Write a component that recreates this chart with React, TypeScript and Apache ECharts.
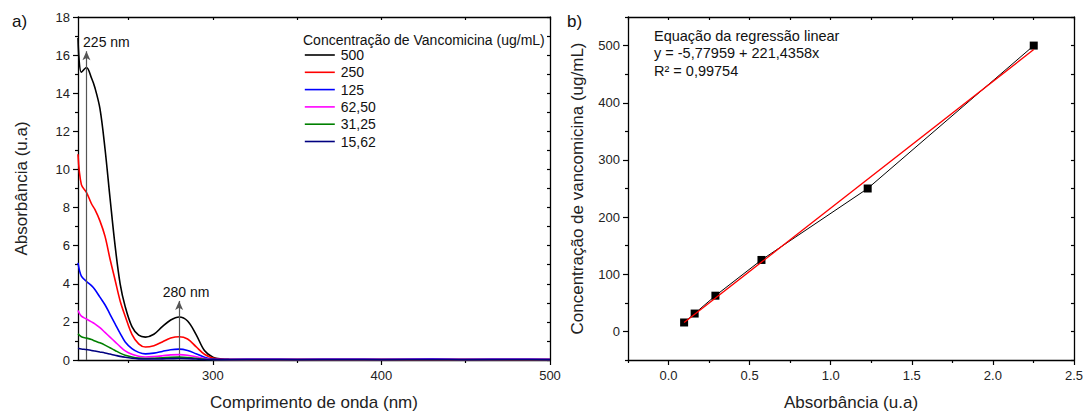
import React, { useEffect, useRef } from 'react';
import * as echarts from 'echarts';

// ---- Panel a) UV spectra ----
const wavelengths = [220, 222, 225, 228, 230, 233, 236, 239, 242, 245, 248, 252, 256, 260, 265, 270, 275, 280, 285, 290, 295, 300, 305, 310, 330, 350, 380, 400, 430, 450, 480, 500];
const abs500 = [16.9, 15.1, 15.35, 14.8, 14.3, 13.2, 11.1, 8.5, 6.0, 4.0, 2.8, 1.75, 1.3, 1.2, 1.35, 1.75, 2.1, 2.26, 2.05, 1.35, 0.5, 0.15, 0.05, 0.03, 0.02, 0.02, 0.02, 0.03, 0.02, 0.03, 0.02, 0.02];
const abs250 = [10.8, 9.2, 8.8, 8.2, 7.9, 7.3, 6.5, 5.3, 4.2, 3.1, 2.3, 1.35, 0.85, 0.68, 0.75, 0.95, 1.15, 1.22, 1.1, 0.7, 0.3, 0.1, 0.04, 0.02, 0.02, 0.02, 0.02, 0.02, 0.02, 0.02, 0.02, 0.02];
const abs125 = [5.1, 4.4, 4.13, 3.9, 3.7, 3.3, 2.9, 2.4, 1.9, 1.4, 0.95, 0.6, 0.4, 0.32, 0.36, 0.45, 0.54, 0.57, 0.5, 0.33, 0.15, 0.05, 0.03, 0.03, 0.04, 0.03, 0.04, 0.03, 0.05, 0.03, 0.04, 0.03];
const abs6250 = [2.6, 2.3, 2.15, 2.0, 1.9, 1.7, 1.45, 1.2, 0.95, 0.7, 0.48, 0.3, 0.2, 0.16, 0.18, 0.22, 0.27, 0.28, 0.25, 0.17, 0.08, 0.03, 0.02, 0.02, 0.02, 0.02, 0.02, 0.02, 0.02, 0.02, 0.02, 0.02];
const abs3125 = [1.38, 1.22, 1.15, 1.07, 1.0, 0.9, 0.78, 0.64, 0.5, 0.36, 0.25, 0.16, 0.1, 0.08, 0.09, 0.11, 0.14, 0.15, 0.13, 0.09, 0.04, 0.02, 0.01, 0.01, 0.01, 0.01, 0.01, 0.01, 0.01, 0.01, 0.01, 0.01];
const abs1562 = [0.62, 0.58, 0.55, 0.5, 0.47, 0.42, 0.37, 0.31, 0.25, 0.19, 0.14, 0.09, 0.06, 0.05, 0.05, 0.06, 0.07, 0.08, 0.07, 0.05, 0.03, 0.02, 0.02, 0.02, 0.03, 0.02, 0.03, 0.02, 0.03, 0.02, 0.03, 0.02];
const seriesNames = ['500', '250', '125', '62,50', '31,25', '15,62'];
const seriesColors = ['#000000', '#ff0000', '#0000ff', '#ff00ff', '#008000', '#000080'];
const spectra = [abs500, abs250, abs125, abs6250, abs3125, abs1562];
const peakMarks = [225, 280];
const peakArrowTops = [16.2, 3.1];
const peakLabels = ['225 nm', '280 nm'];

const xTicksA = [250, 300, 350, 400, 450, 500];
const xLabelsA = [300, 400, 500];
const xMinorA = [250, 350, 450];

// ---- Panel b) calibration ----
const absorbance = [0.096, 0.161, 0.289, 0.573, 1.228, 2.252];
const concentration = [15.62, 31.25, 62.5, 125, 250, 500];
const fitX = [0.096, 2.252];
const fitY = [15.5, 493];
const xLabelsB = [0, 0.5, 1, 1.5, 2, 2.5];
const xMinorB = [-0.25, 0.25, 0.75, 1.25, 1.75, 2.25];
const xAllB = [-0.25, 0, 0.25, 0.5, 0.75, 1, 1.25, 1.5, 1.75, 2, 2.25, 2.5];
const yLabelsB = [0, 100, 200, 300, 400, 500];
const yMinorB = [-50, 50, 150, 250, 350, 450, 550];

const FONT = 'Liberation Sans, Arial, sans-serif';
const axisLine = { show: true, onZero: false, lineStyle: { color: '#000', width: 1.3 } };
const noLine = { show: false, onZero: false };

export default function App() {
  const ref = useRef<HTMLDivElement>(null);
  useEffect(() => {
    const chart = echarts.init(ref.current!, null, { renderer: 'svg' });
    const labelStyle = { fontFamily: FONT, fontSize: 13, color: '#222' };
    const nameStyle = { fontFamily: FONT, fontSize: 17, color: '#222' };

    const lineSeries: any[] = spectra.map((vals, i) => ({
      name: seriesNames[i],
      type: 'line',
      xAxisIndex: 0,
      yAxisIndex: 0,
      symbol: 'none',
      smooth: 0.35,
      lineStyle: { color: seriesColors[i], width: 1.6 },
      itemStyle: { color: seriesColors[i] },
      data: wavelengths.map((w, j) => [w, vals[j]]),
      z: 2 + i,
    }));
    lineSeries.push({
      type: 'line',
      xAxisIndex: 0,
      yAxisIndex: 0,
      data: [],
      z: 20,
      markLine: {
        silent: true,
        animation: false,
        symbol: ['none', 'arrow'],
        symbolSize: [6, 9],
        lineStyle: { color: '#555', width: 1.2, type: 'solid' },
        data: peakMarks.map((w, i) => [
          {
            coord: [w, 0],
            label: {
              show: true,
              position: 'end',
              formatter: peakLabels[i],
              fontFamily: FONT,
              fontSize: 14,
              color: '#111',
              distance: 2,
              padding: [0, 0, 0, i === 0 ? 40 : 14],
            },
          },
          { coord: [w, peakArrowTops[i]] },
        ]),
      },
    });

    const option: any = {
      animation: false,
      title: [
        { text: 'a)', left: 12, top: 13, padding: 0, textStyle: { fontFamily: FONT, fontSize: 17, fontWeight: 'normal', color: '#111' } },
        { text: 'b)', left: 567, top: 13, padding: 0, textStyle: { fontFamily: FONT, fontSize: 17, fontWeight: 'normal', color: '#111' } },
        { text: 'Concentração de Vancomicina (ug/mL)', left: 303, top: 31, padding: 0, textStyle: { fontFamily: FONT, fontSize: 14, fontWeight: 'normal', color: '#111', lineHeight: 17 } },
        {
          text: 'Equação da regressão linear\ny = -5,77959 + 221,4358x\nR² = 0,99754',
          left: 654, top: 27, padding: 0,
          textStyle: { fontFamily: FONT, fontSize: 14.5, fontWeight: 'normal', color: '#111', lineHeight: 17.5 },
        },
      ],
      legend: {
        orient: 'vertical',
        left: 304,
        top: 48,
        padding: 0,
        itemWidth: 30,
        itemHeight: 14,
        itemGap: 3.3,
        data: seriesNames,
        itemStyle: { opacity: 0 },
        lineStyle: { width: 1.6 },
        textStyle: { fontFamily: FONT, fontSize: 14, color: '#111', padding: [0, 0, 0, 1] },
      },
      grid: [
        { left: 78, top: 17, right: 536, bottom: 53 },
        { left: 628, top: 17, right: 7, bottom: 53 },
      ],
      xAxis: [
        {
          gridIndex: 0, type: 'value', position: 'bottom', min: 220, max: 500,
          axisLine, splitLine: { show: false },
          axisTick: { show: true, customValues: xLabelsA, length: 5, lineStyle: { color: '#000', width: 1.2 } },
          axisLabel: { customValues: xLabelsA, margin: 9, ...labelStyle },
          name: 'Comprimento de onda (nm)', nameLocation: 'middle', nameGap: 34, nameTextStyle: nameStyle,
        },
        {
          gridIndex: 0, type: 'value', position: 'bottom', min: 220, max: 500,
          axisLine: noLine, splitLine: { show: false },
          axisTick: { show: true, customValues: xMinorA, length: 3, lineStyle: { color: '#000', width: 1.2 } },
          axisLabel: { show: false },
        },
        {
          gridIndex: 0, type: 'value', position: 'top', min: 220, max: 500,
          axisLine, splitLine: { show: false },
          axisTick: { show: true, inside: true, customValues: xTicksA, length: 3, lineStyle: { color: '#000', width: 1.2 } },
          axisLabel: { show: false },
        },
        {
          gridIndex: 1, type: 'value', position: 'bottom', min: -0.25, max: 2.5,
          axisLine, splitLine: { show: false },
          axisTick: { show: true, customValues: xLabelsB, length: 5, lineStyle: { color: '#000', width: 1.2 } },
          axisLabel: { customValues: xLabelsB, margin: 9, formatter: (v: number) => v.toFixed(1), ...labelStyle },
          name: 'Absorbância (u.a)', nameLocation: 'middle', nameGap: 34, nameTextStyle: nameStyle,
        },
        {
          gridIndex: 1, type: 'value', position: 'bottom', min: -0.25, max: 2.5,
          axisLine: noLine, splitLine: { show: false },
          axisTick: { show: true, customValues: xMinorB, length: 3, lineStyle: { color: '#000', width: 1.2 } },
          axisLabel: { show: false },
        },
        {
          gridIndex: 1, type: 'value', position: 'top', min: -0.25, max: 2.5,
          axisLine, splitLine: { show: false },
          axisTick: { show: true, inside: true, customValues: xAllB, length: 3, lineStyle: { color: '#000', width: 1.2 } },
          axisLabel: { show: false },
        },
      ],
      yAxis: [
        {
          gridIndex: 0, type: 'value', position: 'left', min: 0, max: 18, interval: 2,
          axisLine, splitLine: { show: false },
          axisTick: { show: true, length: 5, lineStyle: { color: '#000', width: 1.2 } },
          minorTick: { show: true, splitNumber: 2, length: 3, lineStyle: { color: '#000', width: 1.2 } },
          axisLabel: { margin: 8, ...labelStyle },
          name: 'Absorbância (u.a)', nameLocation: 'middle', nameGap: 48, nameTextStyle: nameStyle,
        },
        {
          gridIndex: 0, type: 'value', position: 'right', min: 0, max: 18, interval: 1,
          axisLine, splitLine: { show: false },
          axisTick: { show: true, inside: true, length: 3, lineStyle: { color: '#000', width: 1.2 } },
          axisLabel: { show: false },
        },
        {
          gridIndex: 1, type: 'value', position: 'left', min: -50, max: 550,
          axisLine, splitLine: { show: false },
          axisTick: { show: true, customValues: yLabelsB, length: 5, lineStyle: { color: '#000', width: 1.2 } },
          axisLabel: { customValues: yLabelsB, margin: 8, ...labelStyle },
          name: 'Concentração de vancomicina (ug/mL)', nameLocation: 'middle', nameGap: 42, nameTextStyle: nameStyle,
        },
        {
          gridIndex: 1, type: 'value', position: 'left', min: -50, max: 550,
          axisLine: noLine, splitLine: { show: false },
          axisTick: { show: true, customValues: yMinorB, length: 3, lineStyle: { color: '#000', width: 1.2 } },
          axisLabel: { show: false },
        },
        {
          gridIndex: 1, type: 'value', position: 'right', min: -50, max: 550, interval: 50,
          axisLine, splitLine: { show: false },
          axisTick: { show: true, inside: true, length: 3, lineStyle: { color: '#000', width: 1.2 } },
          axisLabel: { show: false },
        },
      ],
      series: [
        ...lineSeries,
        {
          type: 'line',
          xAxisIndex: 3,
          yAxisIndex: 2,
          symbol: 'rect',
          symbolSize: 8,
          itemStyle: { color: '#000' },
          lineStyle: { color: '#000', width: 1 },
          data: absorbance.map((a, i) => [a, concentration[i]]),
          z: 5,
        },
        {
          type: 'line',
          xAxisIndex: 3,
          yAxisIndex: 2,
          symbol: 'none',
          lineStyle: { color: '#ff0000', width: 1.3 },
          data: fitX.map((a, i) => [a, fitY[i]]),
          z: 6,
        },
      ],
    };
    chart.setOption(option);
    return () => chart.dispose();
  }, []);
  return <div ref={ref} style={{ position: 'fixed', left: 0, top: 0, width: 1086, height: 416, background: '#fff' }} />;
}
